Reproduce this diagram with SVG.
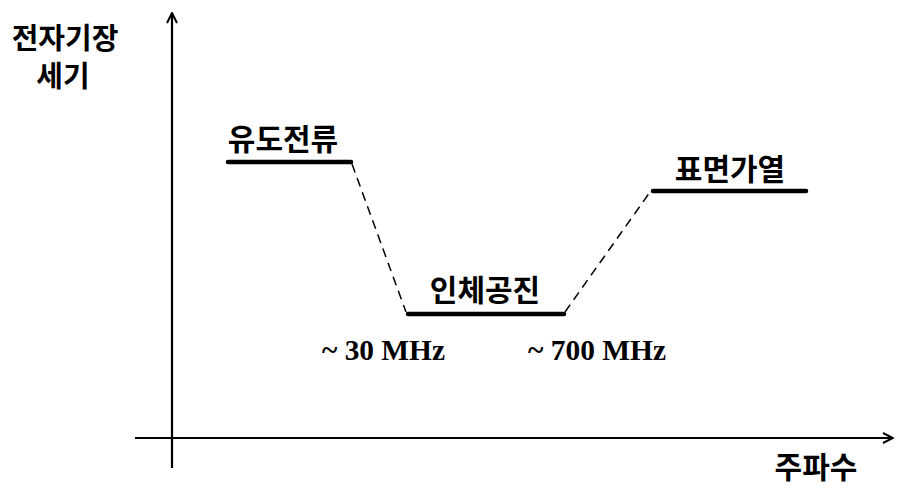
<svg xmlns="http://www.w3.org/2000/svg" width="900" height="488" viewBox="0 0 900 488">
<style>
.k{font-family:"Noto Sans CJK KR",sans-serif;font-weight:bold;fill:#000;font-size:30px;text-anchor:middle}
.f{font-family:"Liberation Serif",serif;font-weight:bold;font-size:29px;fill:#000}
.lvl{stroke:#000;stroke-width:4.5;stroke-linecap:round}
.dash{stroke:#000;stroke-width:1.5;stroke-dasharray:9,6;fill:none}
.ax{stroke:#000;stroke-width:2.2;fill:none}
</style>
<defs>
<marker id="ah" viewBox="0 0 12 12" refX="11" refY="6" markerWidth="12" markerHeight="12" markerUnits="userSpaceOnUse" orient="auto">
<path d="M1,1 L11,6 L1,11" fill="none" stroke="#000" stroke-width="2"/>
</marker>
</defs>
<g id="axes">
<line class="ax" x1="172" y1="468" x2="172" y2="13" marker-end="url(#ah)"/>
<line class="ax" x1="135" y1="438" x2="893" y2="438" marker-end="url(#ah)"/>
<text class="k" x="65" y="49" style="font-size:29px">전자기장</text>
<text class="k" x="63" y="87" style="font-size:29px">세기</text>
<text class="k" x="816" y="478">주파수</text>
</g>
<g id="connectors">
<line class="dash" x1="352" y1="164" x2="406" y2="312"/>
<line class="dash" x1="565" y1="312" x2="650" y2="192"/>
</g>
<g id="n1">
<line class="lvl" x1="228" y1="162" x2="351" y2="162"/>
<text class="k" x="283" y="150">유도전류</text>
</g>
<g id="n2">
<line class="lvl" x1="408" y1="314" x2="564" y2="314"/>
<text class="k" x="485" y="301">인체공진</text>
</g>
<g id="n3">
<line class="lvl" x1="653" y1="191" x2="806" y2="191"/>
<text class="k" x="730" y="180">표면가열</text>
</g>
<g id="labels">
<text class="f" x="322" y="360" textLength="123" lengthAdjust="spacingAndGlyphs">~ 30 MHz</text>
<text class="f" x="528" y="360" textLength="138" lengthAdjust="spacingAndGlyphs">~ 700 MHz</text>
</g>
</svg>
